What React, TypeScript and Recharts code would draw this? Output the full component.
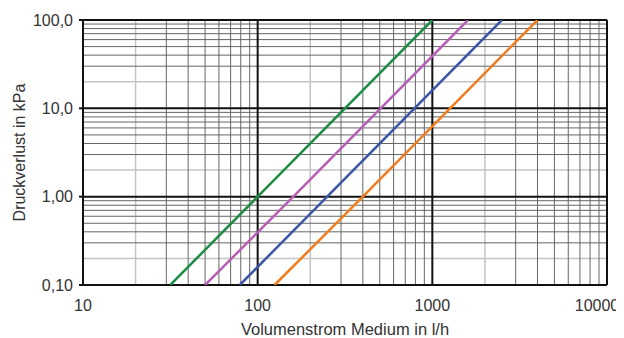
import React from "react";
import { LineChart, Line, XAxis, YAxis, ReferenceLine } from "recharts";

// Axis ticks
const xTicks = [10, 100, 1000, 10000];
const xTickLabels = ["10", "100", "1000", "10000"];
const yTicks = [0.1, 1, 10, 100];
const yTickLabels = ["0,10", "1,00", "10,0", "100,0"];

// Minor grid multipliers per decade
const minorLight = [2];
const minorDark = [3, 4, 5, 6, 7, 8, 9];

// Series (flow l/h, pressure drop kPa)
const greenFlow = [31.6, 100, 1000];
const greenDp = [0.1, 1, 100];
const purpleFlow = [50, 160, 1600];
const purpleDp = [0.1, 1, 100];
const blueFlow = [79, 250, 2500];
const blueDp = [0.1, 1, 100];
const orangeFlow = [125, 400, 4000];
const orangeDp = [0.1, 1, 100];

const toRows = (f: number[], d: number[]) => f.map((v, i) => ({ flow: v, dp: d[i] }));

const xDecades = [10, 100, 1000];
const yDecades = [0.1, 1, 10];

const xMinorLight = xDecades.flatMap((d) => minorLight.map((m) => d * m));
const xMinorDark = xDecades.flatMap((d) => minorDark.map((m) => d * m));
const yMinorLight = yDecades.flatMap((d) => minorLight.map((m) => d * m));
const yMinorDark = yDecades.flatMap((d) => minorDark.map((m) => d * m));

const font = "'Liberation Sans', Arial, sans-serif";
const textColor = "#333333";
const fontSize = 16;

const XTick = (props: any) => {
  const { x, y, payload, index } = props;
  const isLast = index === xTicks.length - 1;
  const label = xTickLabels[xTicks.indexOf(payload.value)] ?? String(payload.value);
  return (
    <text
      x={isLast ? x - 7 : x}
      y={y + 12}
      textAnchor="middle"
      fill={textColor}
      fontSize={fontSize}
      fontFamily={font}
    >
      {label}
    </text>
  );
};

export default function App() {
  return (
    <div style={{ width: 616, height: 330 }}>
      <LineChart
        width={616}
        height={330}
        margin={{ top: 12, right: 17, bottom: 13, left: 0 }}
      >
        <XAxis
          dataKey="flow"
          type="number"
          scale="log"
          domain={[10, 10000]}
          ticks={xTicks}
          allowDataOverflow
          axisLine={false}
          tickLine={false}
          tickSize={0}
          tickMargin={14}
          height={40}
          tick={<XTick />}
          label={{
            value: "Volumenstrom Medium in l/h",
            position: "insideBottom",
            offset: -10,
            fill: textColor,
            fontSize: 16.5,
            fontFamily: font,
          }}
        />
        <YAxis
          dataKey="dp"
          type="number"
          scale="log"
          domain={[0.1, 100]}
          ticks={yTicks}
          tickFormatter={(v: number) => yTickLabels[yTicks.indexOf(v)] ?? String(v)}
          allowDataOverflow
          axisLine={false}
          tickLine={{ stroke: "#111", strokeWidth: 2 }}
          tickSize={4}
          tickMargin={6}
          width={75}
          tick={{ fill: textColor, fontSize: fontSize, fontFamily: font }}
          label={{
            value: "Druckverlust in kPa",
            angle: -90,
            position: "insideLeft",
            offset: 11,
            style: { textAnchor: "middle" },
            fill: textColor,
            fontSize: fontSize,
            fontFamily: font,
          }}
        />
        {xMinorLight.map((v) => (
          <ReferenceLine key={"xl" + v} x={v} stroke="#c4c4c4" strokeWidth={1.5} />
        ))}
        {yMinorLight.map((v) => (
          <ReferenceLine key={"yl" + v} y={v} stroke="#c4c4c4" strokeWidth={1.5} />
        ))}
        {xMinorDark.map((v) => (
          <ReferenceLine key={"xd" + v} x={v} stroke="#666666" strokeWidth={1} />
        ))}
        {yMinorDark.map((v) => (
          <ReferenceLine key={"yd" + v} y={v} stroke="#666666" strokeWidth={1} />
        ))}
        {xTicks.map((v) => (
          <ReferenceLine key={"xm" + v} x={v} stroke="#111" strokeWidth={2} />
        ))}
        {yTicks.map((v) => (
          <ReferenceLine key={"ym" + v} y={v} stroke="#111" strokeWidth={2} />
        ))}
        <Line
          data={toRows(greenFlow, greenDp)}
          dataKey="dp"
          stroke="#1e8c45"
          strokeWidth={2.5}
          dot={false}
          isAnimationActive={false}
        />
        <Line
          data={toRows(purpleFlow, purpleDp)}
          dataKey="dp"
          stroke="#b55fb5"
          strokeWidth={2.5}
          dot={false}
          isAnimationActive={false}
        />
        <Line
          data={toRows(blueFlow, blueDp)}
          dataKey="dp"
          stroke="#3b56a8"
          strokeWidth={2.5}
          dot={false}
          isAnimationActive={false}
        />
        <Line
          data={toRows(orangeFlow, orangeDp)}
          dataKey="dp"
          stroke="#f07c1e"
          strokeWidth={2.5}
          dot={false}
          isAnimationActive={false}
        />
      </LineChart>
    </div>
  );
}
